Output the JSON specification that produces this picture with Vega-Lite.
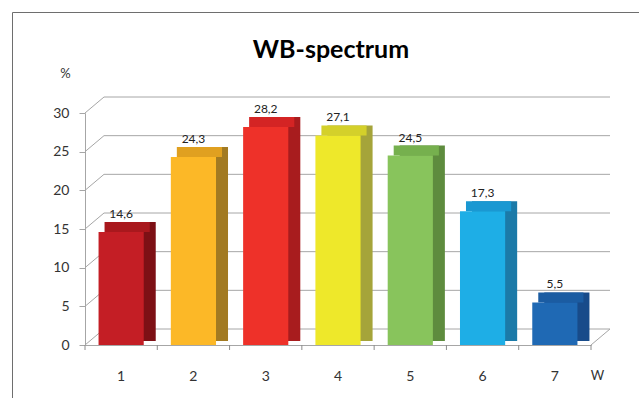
{
  "$schema": "https://vega.github.io/schema/vega-lite/v6.json",
  "width": 660,
  "height": 420,
  "autosize": {"type": "none"},
  "padding": {"left": 12, "top": 12, "right": 0, "bottom": 0},
  "background": "white",
  "config": {
    "view": {"stroke": "#6e6e6e", "strokeWidth": 1},
    "font": "Lato",
    "locale": {"number": {"decimal": ",", "thousands": ".", "grouping": [3], "currency": ["", " €"]}}
  },
  "title": {
    "text": "WB-spectrum",
    "anchor": "middle",
    "frame": "group",
    "font": "Lato",
    "fontSize": 25,
    "fontWeight": "bold",
    "color": "#000000",
    "baseline": "alphabetic",
    "offset": -71,
    "dx": -11
  },
  "datasets": {
    "bars": [
      {"w": "1", "v": 14.6},
      {"w": "2", "v": 24.3},
      {"w": "3", "v": 28.2},
      {"w": "4", "v": 27.1},
      {"w": "5", "v": 24.5},
      {"w": "6", "v": 17.3},
      {"w": "7", "v": 5.5}
    ],
    "grid": [{"v": 0}, {"v": 5}, {"v": 10}, {"v": 15}, {"v": 20}, {"v": 25}, {"v": 30}],
    "ticks": [{"t": 0}, {"t": 1}, {"t": 2}, {"t": 3}, {"t": 4}, {"t": 5}, {"t": 6}, {"t": 7}]
  },
  "layer": [
    {
      "data": {"name": "grid"},
      "layer": [
        {
          "mark": {"type": "rule", "color": "#a6a6a6", "strokeWidth": 1, "xOffset": 19, "x2Offset": 19, "yOffset": -16},
          "encoding": {
            "x": {"datum": 0, "type": "quantitative", "scale": {"domain": [0, 7], "range": [73, 579]}, "axis": null},
            "x2": {"datum": 7},
            "y": {"field": "v", "type": "quantitative", "scale": {"domain": [0, 30], "range": [333, 101], "nice": false},
              "axis": {
                "orient": "left",
                "offset": -73,
                "values": [0, 5, 10, 15, 20, 25, 30],
                "title": "%",
                "titleAngle": 0,
                "titleX": -20,
                "titleY": 61,
                "titleAlign": "center",
                "titleBaseline": "middle",
                "titleFontSize": 13,
                "titleFontWeight": "normal",
                "titleColor": "#333333",
                "titleFont": "Lato",
                "labelFont": "Lato",
                "labelFontSize": 14,
                "labelColor": "#333333",
                "labelPadding": 10,
                "tickSize": 6,
                "tickColor": "#a6a6a6",
                "domainColor": "#a6a6a6",
                "grid": false
              }}
          }
        },
        {
          "mark": {"type": "rule", "color": "#a6a6a6", "strokeWidth": 1, "x2Offset": 19, "y2Offset": -16},
          "encoding": {
            "x": {"datum": 0, "type": "quantitative"},
            "x2": {"datum": 0},
            "y": {"field": "v", "type": "quantitative"},
            "y2": {"field": "v"}
          }
        },
        {
          "data": {"values": [{}]},
          "mark": {"type": "rule", "color": "#a6a6a6", "strokeWidth": 1, "x2Offset": 19, "y2Offset": -16},
          "encoding": {
            "x": {"datum": 7, "type": "quantitative"},
            "x2": {"datum": 7},
            "y": {"datum": 0, "type": "quantitative"},
            "y2": {"datum": 0}
          }
        },
        {
          "data": {"name": "ticks"},
          "mark": {"type": "rule", "color": "#8c8c8c", "strokeWidth": 1, "y2Offset": 5},
          "encoding": {
            "x": {"field": "t", "type": "quantitative"},
            "y": {"datum": 0, "type": "quantitative"},
            "y2": {"datum": 0}
          }
        }
      ]
    },
    {
      "data": {"name": "bars"},
      "resolve": {"scale": {"color": "independent"}},
      "encoding": {
        "x": {
          "field": "w",
          "type": "nominal",
          "scale": {"range": [73, 579], "paddingInner": 0.375, "paddingOuter": 0.1875},
          "axis": {
            "orient": "bottom",
            "offset": -87,
            "title": "W",
            "titleX": 585,
            "titleY": 30,
            "titleAlign": "center",
            "titleBaseline": "middle",
            "titleFontSize": 13,
            "titleFontWeight": "normal",
            "titleColor": "#333333",
            "titleFont": "Lato",
            "labelAngle": 0,
            "labelFont": "Lato",
            "labelFontSize": 14,
            "labelColor": "#333333",
            "labelPadding": 24,
            "ticks": false,
            "domainColor": "#a6a6a6",
            "grid": false
          }
        },
        "y": {
          "field": "v",
          "type": "quantitative",
          "scale": {"domain": [0, 30], "range": [333, 101], "nice": false}
        }
      },
      "layer": [
        {
          "mark": {"type": "bar", "xOffset": 12, "yOffset": -10, "y2Offset": -4},
          "encoding": {
            "y2": {"datum": 0},
            "color": {"field": "w", "type": "nominal", "legend": null,
              "scale": {"range": ["#7d1015", "#a27a22", "#a81c1e", "#a5a43a", "#5e8c3e", "#1b7aa8", "#184b8a"]}}
          }
        },
        {
          "mark": {"type": "bar", "xOffset": 6, "yOffset": -10},
          "encoding": {
            "y2": {"field": "v"},
            "color": {"field": "w", "type": "nominal", "legend": null,
              "scale": {"range": ["#a9181d", "#e0a020", "#d42424", "#d4d02a", "#76b04e", "#1a98d2", "#1b5ca2"]}}
          }
        },
        {
          "mark": {"type": "bar"},
          "encoding": {
            "color": {"field": "w", "type": "nominal", "legend": null,
              "scale": {"range": ["#c41e25", "#fcb827", "#ee3129", "#eee82a", "#88c45c", "#1eaee6", "#1f69b4"]}}
          }
        },
        {
          "mark": {"type": "text", "yOffset": -14, "baseline": "alphabetic", "fontSize": 12, "color": "#222222", "font": "Lato"},
          "encoding": {"text": {"field": "v", "type": "quantitative", "format": ".1f"}}
        }
      ]
    }
  ],
  "resolve": {"scale": {"x": "independent"}}
}
